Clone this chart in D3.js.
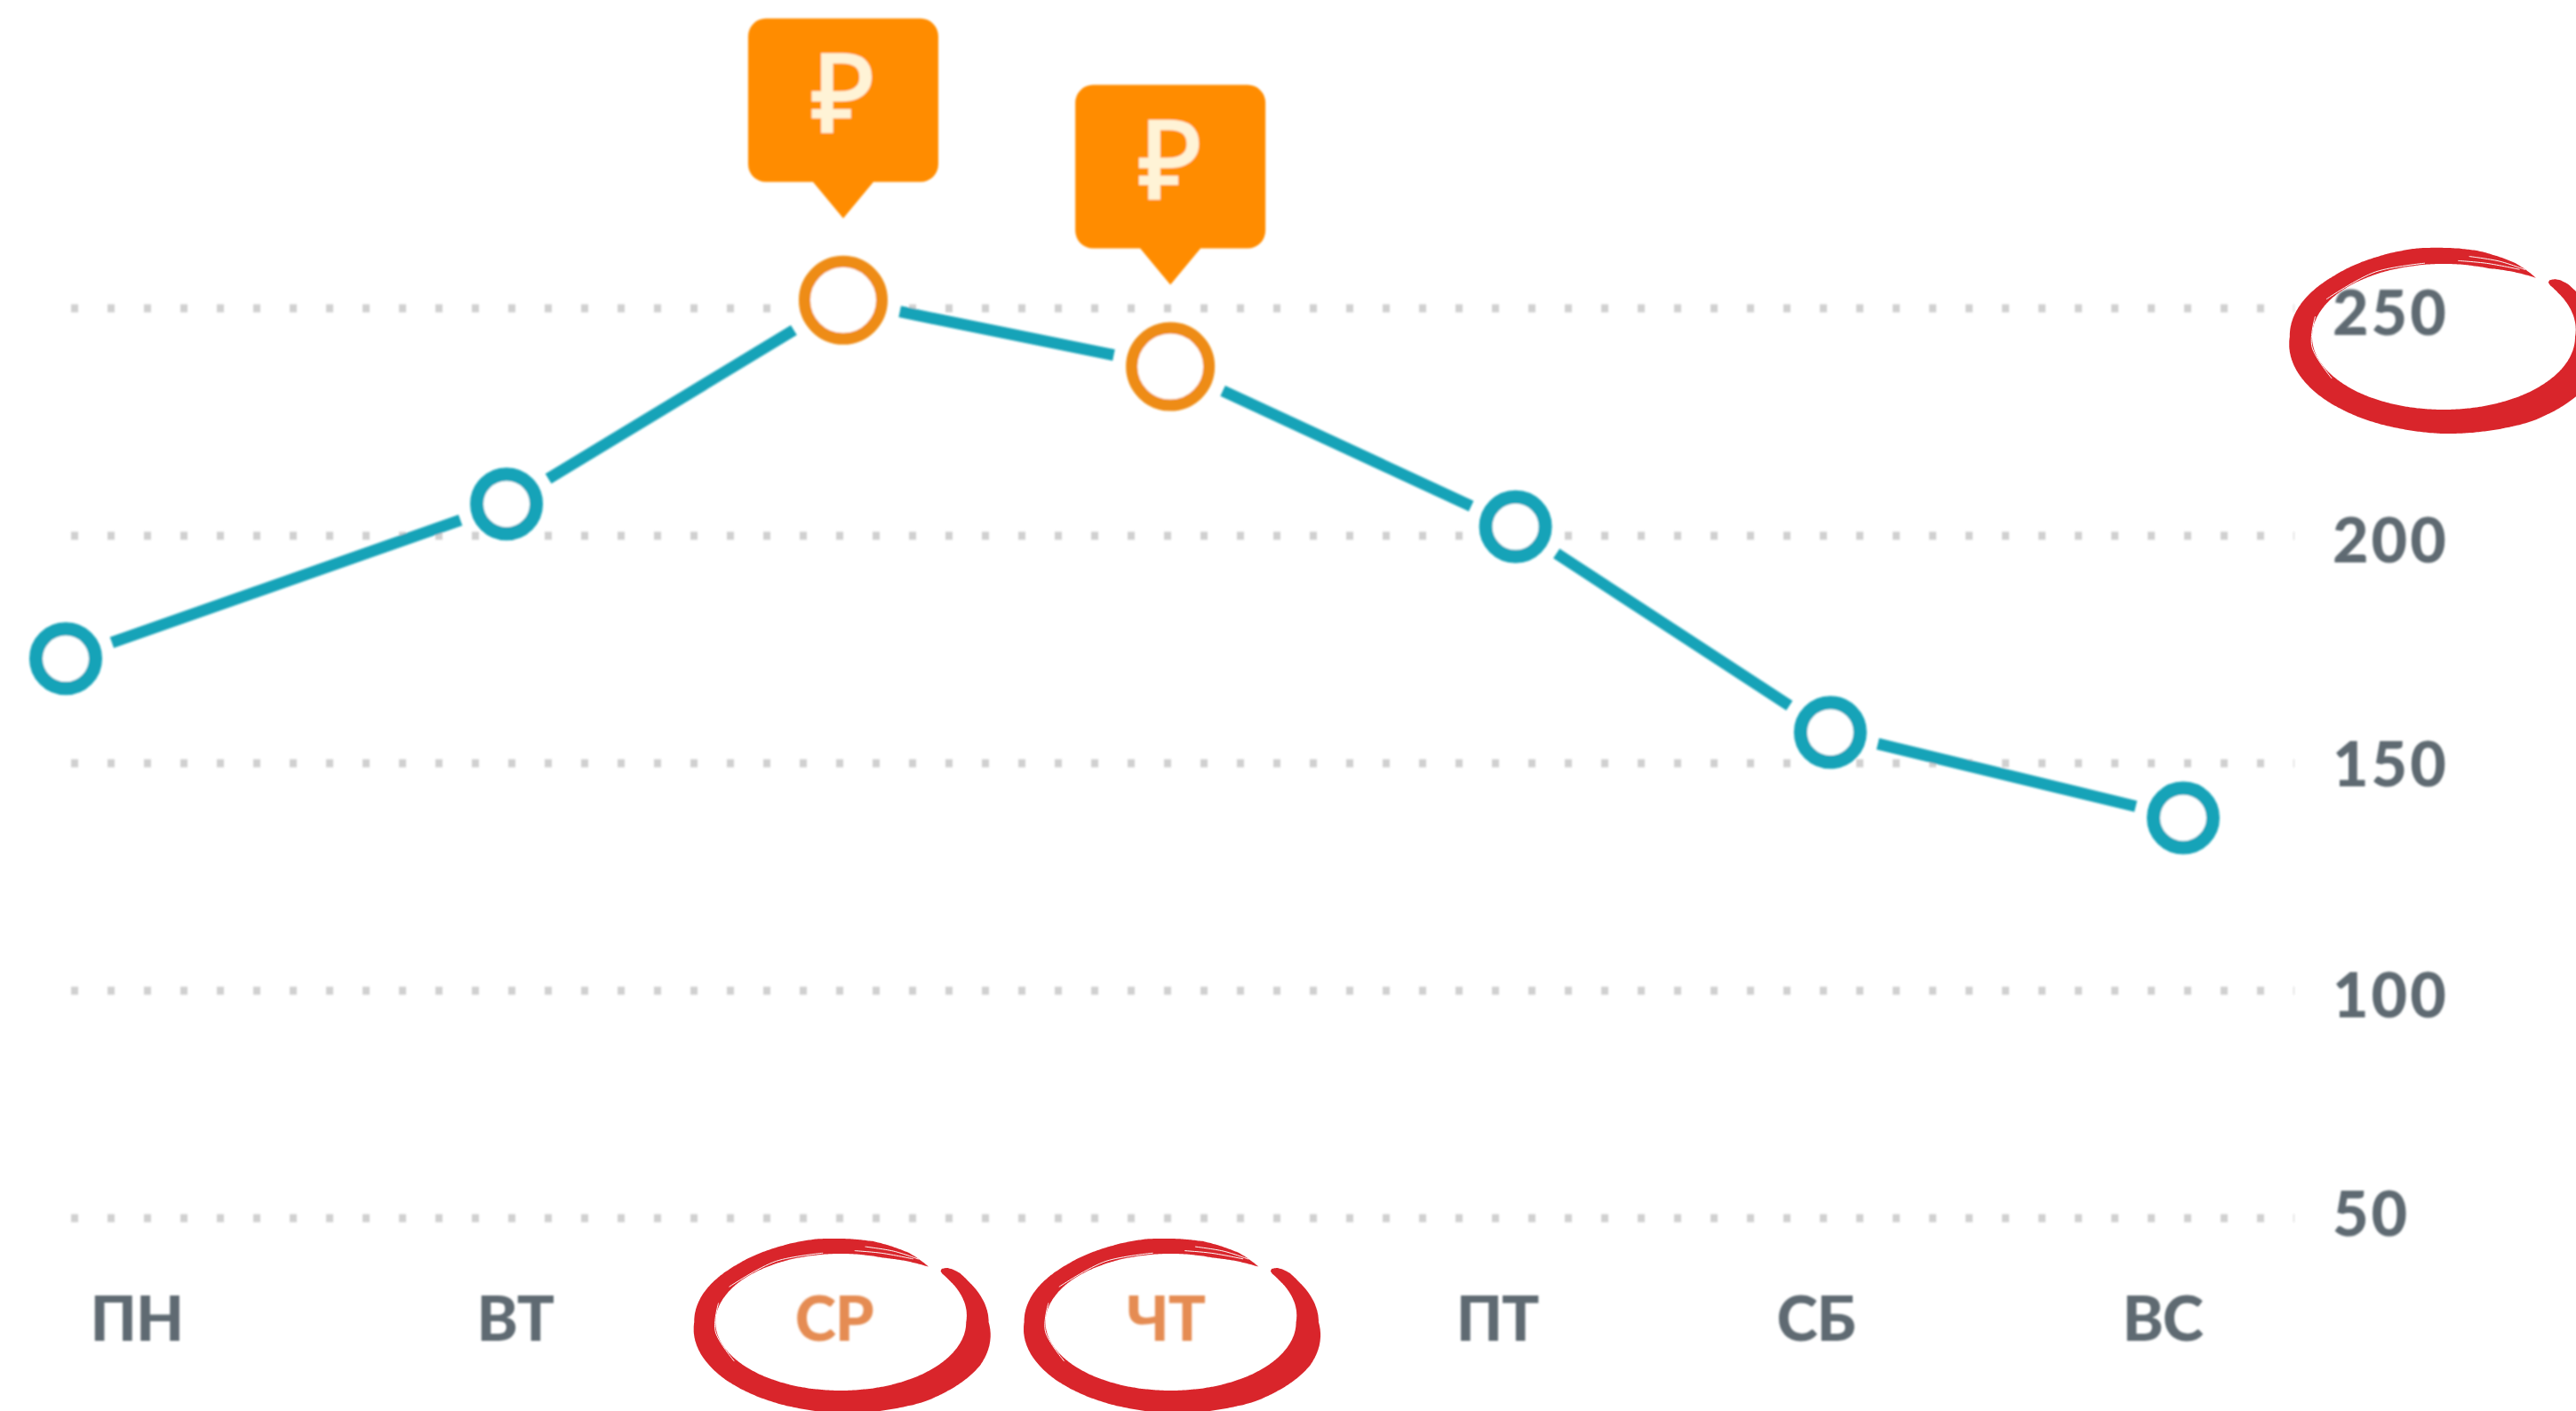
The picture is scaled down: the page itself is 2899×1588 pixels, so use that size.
<!DOCTYPE html>
<html><head><meta charset="utf-8">
<script src="https://cdn.jsdelivr.net/npm/d3@7"></script>
<style>
html,body{margin:0;padding:0;background:#fff;overflow:hidden}
svg{display:block}
</style></head><body>
<svg id="c" width="2899" height="1588"></svg>
<script>
// ---- data ----
const days = ["ПН","ВТ","СР","ЧТ","ПТ","СБ","ВС"];
const dayPosition = [0, 1.249, 2.203, 3.13, 4.108, 5.0, 6.0];      // where each point sits along the week
const labelPosition = [0.2, 1.272, 2.176, 3.116, 4.055, 4.958, 5.94]; // where each day label sits
const prices = [172.8, 206.8, 251.6, 237, 201.8, 156.6, 137.8];
const yTicks = [50, 100, 150, 200, 250];
const highlightedDays = ["СР","ЧТ"];
const circledTick = 250;

// ---- layout ----
const svg = d3.select("#c");
const x = d3.scaleLinear().domain([0, 6]).range([74, 2457]);
const y = d3.scaleLinear().domain([50, 250]).range([1370, 346]);
const TEAL = "#15a3b8", ORANGE = "#ee8c14", TIP = "#ff8c00", GREY = "#5f6b72", HL = "#e58c52", RED = "#d9252b";

const defs = svg.append("defs");
defs.append("filter").attr("id","soft").append("feGaussianBlur").attr("stdDeviation",1.3);

const chart = svg.append("g").attr("filter","url(#soft)");

// grid
chart.append("g").selectAll("line").data(yTicks).join("line")
  .attr("x1",80).attr("x2",2582)
  .attr("y1",d=>y(d)+1).attr("y2",d=>y(d)+1)
  .attr("stroke","#d0d0d0").attr("stroke-width",9).attr("stroke-dasharray","8 33");

const labelStyle = sel => sel
  .style("font-family",'Lato,"Open Sans",sans-serif').style("font-weight",900)
  .attr("font-size",70);

// y axis
const tickNudge = {250:8, 200:8, 150:4, 100:8, 50:-2};
const yAxis = chart.append("g").attr("transform","translate(2625,0)")
  .call(d3.axisRight(y).tickValues(yTicks).tickSize(0).tickPadding(0));
yAxis.select(".domain").remove();
yAxis.selectAll("text").call(labelStyle).attr("fill",GREY)
  .style("letter-spacing","3px")
  .attr("dy",d=>`${0.32+tickNudge[d]/70}em`);

// x axis
const xAxis = chart.append("g").attr("transform","translate(0,1484)")
  .call(d3.axisBottom(x).tickValues(labelPosition).tickSize(0).tickPadding(0)
    .tickFormat((d,i)=>days[i]));
xAxis.select(".domain").remove();
xAxis.selectAll("text").call(labelStyle).attr("y",0).attr("dy","0.36em")
  .style("letter-spacing","-1px")
  .attr("fill",(d,i)=>highlightedDays.includes(days[i])?HL:GREY);

// points
const pts = days.map((d,i)=>({day:d,px:x(dayPosition[i]),py:y(prices[i]),hot:highlightedDays.includes(d)}));
const radius = p=>p.hot?43.5:33.5;
const gap = p=>p.hot?65:55;

// line: one segment per pair, stopping short of the markers
const line = d3.line().x(d=>d[0]).y(d=>d[1]);
chart.append("g").selectAll("path").data(d3.pairs(pts)).join("path")
  .attr("d",([a,b])=>{
    const dx=b.px-a.px, dy=b.py-a.py, L=Math.hypot(dx,dy);
    return line([[a.px+dx/L*gap(a),a.py+dy/L*gap(a)],[b.px-dx/L*gap(b),b.py-dy/L*gap(b)]]);
  })
  .attr("fill","none").attr("stroke",TEAL).attr("stroke-width",13);

chart.append("g").selectAll("circle").data(pts).join("circle")
  .attr("cx",d=>d.px).attr("cy",d=>d.py).attr("r",radius)
  .attr("fill","#fff").attr("stroke",d=>d.hot?ORANGE:TEAL).attr("stroke-width",d=>d.hot?13:15);

// price callouts
const hot = pts.filter(p=>p.hot);
const W=214,H=184,TH=41,TW=34,R=20,LIFT=92;
const callout = chart.append("g").selectAll("g").data(hot).join("g")
  .attr("transform",d=>`translate(${d.px},${d.py-LIFT})`);
callout.append("path").attr("fill",TIP).attr("d",()=>{
  const l=-W/2,r=W/2,b=-TH,t=-TH-H,p=d3.path();
  p.moveTo(l+R,t);p.lineTo(r-R,t);p.arcTo(r,t,r,t+R,R);p.lineTo(r,b-R);p.arcTo(r,b,r-R,b,R);
  p.lineTo(TW,b);p.lineTo(0,0);p.lineTo(-TW,b);p.lineTo(l+R,b);p.arcTo(l,b,l,b-R,R);p.lineTo(l,t+R);p.arcTo(l,t,l+R,t,R);p.closePath();
  return p.toString();
});
callout.append("text").text("₽").attr("text-anchor","middle").attr("y",-TH-H/2+36)
  .attr("fill","#fff3d6").attr("stroke","#fff3d6").attr("stroke-width",2.5).attr("font-size",122)
  .style("font-family",'"Noto Sans","DejaVu Sans",sans-serif').style("font-weight",400);

// hand-brushed red rings
const outerStops = d3.scaleLinear()
  .domain([46,47,49,53,60,90,120,150,180,225,270,315,350,372,388,401])
  .range([1.12,1.16,1.18,1.19,1.18,1.18,1.28,1.34,1.33,1.25,1.17,1.18,1.23,1.21,1.15,1.07]);
const innerStops = d3.scaleLinear()
  .domain([46,47,49,55,90,380,401]).range([1.12,1.09,1.075,1.06,1.0,1.0,1.07]);
const ring = d3.areaRadial()
  .angle(a=>a*Math.PI/180)
  .innerRadius(a=>innerStops(a))
  .outerRadius(a=>outerStops(a))
  .curve(d3.curveCatmullRom);
const sweep = d3.range(46,401,1).concat([401]);
const streak = d3.lineRadial().angle(d=>d[0]*Math.PI/180).radius(d=>d[1]);

function ringAt(cx,cy,rx,ry){
  const g = svg.append("g").attr("transform",`translate(${cx},${cy}) scale(${rx},${ry})`);
  g.append("path").datum(sweep).attr("d",ring).attr("fill",RED);
  // dry-brush hairlines
  [[[236,1.025],[262,1.01],[286,1.015]],
   [[300,1.03],[330,1.03],[352,1.02]],
   [[366,1.05],[378,1.06],[392,1.09]],
   [[370,1.12],[382,1.12],[394,1.11]]].forEach(s=>{
    g.append("path").datum(s).attr("d",streak.curve(d3.curveCatmullRom))
      .attr("fill","none").attr("stroke","#fff").attr("stroke-width",1)
      .attr("vector-effect","non-scaling-stroke");
  });
}
const tickX = 2750;
ringAt(x(labelPosition[2])+8, 1488, 141, 77);
ringAt(x(labelPosition[3])+6, 1488, 141, 77);
ringAt(tickX, y(circledTick)+33, 148, 82);
</script>
</body></html>
